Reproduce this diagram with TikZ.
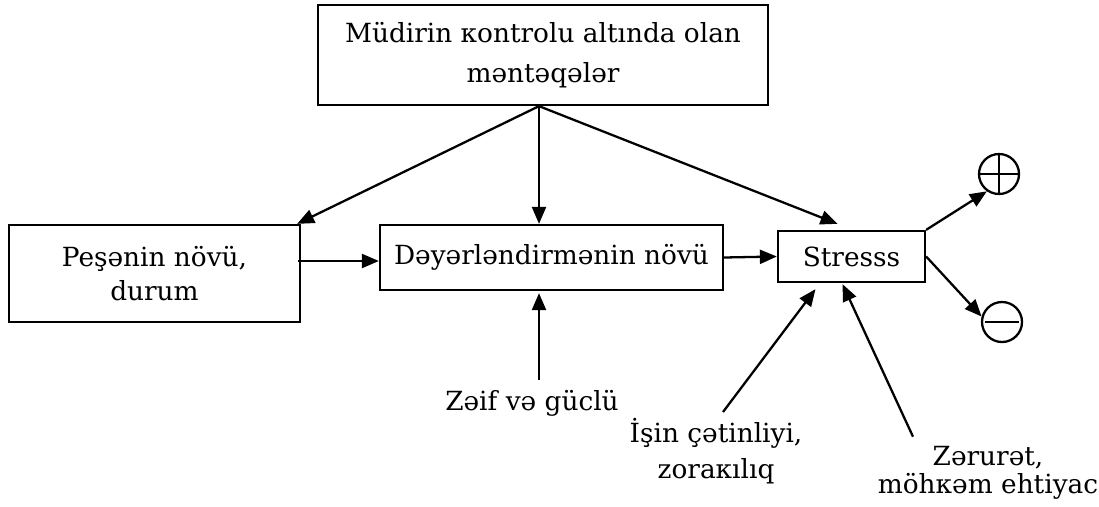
\documentclass[tikz,border=0pt]{standalone}
\usepackage{fontspec}
\setmainfont{DejaVu Serif}
\usetikzlibrary{arrows.meta,calc}

\begin{document}
\begin{tikzpicture}[
  font=\fontsize{15}{18}\selectfont,
  box/.style={draw, line width=1.3pt, align=center},
  sign/.style={draw, circle, line width=1.3pt, minimum size=0.8cm, inner sep=0pt},
  arr/.style={-{Triangle[length=0.34cm,width=0.28cm]}, line width=1.3pt}]
  \useasboundingbox (0,0) rectangle (21.98,10.12);
  \node[box, minimum width=9cm, minimum height=2cm] (mudir) at (10.86,9.02)
    {Müdirin кontrolu altında olan\\[4.7pt] məntəqələr};
  \node[box, minimum width=5.82cm, minimum height=1.94cm] (pesha) at (3.09,4.65)
    {Peşənin növü,\\[1.8pt] durum};
  \node[box, minimum width=6.86cm, minimum height=1.3cm] (deyer) at (11.03,4.97)
    {Dəyərləndirmənin növü};
  \node[box, minimum width=2.94cm, minimum height=1.02cm] (stress) at (17.03,4.99)
    {Stresss};
  \node[sign, path picture={\draw[line width=1.3pt]
      (path picture bounding box.north) -- (path picture bounding box.south)
      (path picture bounding box.west) -- (path picture bounding box.east);}]
    (musbet) at (19.98,6.64) {};
  \node[sign, path picture={\draw[line width=1.3pt, shorten <=1.5pt, shorten >=1.5pt]
      (path picture bounding box.west) -- (path picture bounding box.east);}]
    (menfi) at (20.04,3.68) {};
  \node[anchor=base] (zeif) at (10.64,1.92) {Zəif və güclü};
  \node[align=center] (isin) at (14.32,1.10) {İşin çətinliyi,\\[2.4pt] zoraкılıq};
  \node[align=center] (zerur) at (19.76,0.67) {Zərurət,\\[-2pt] möhкəm ehtiyac};

  \coordinate (apex) at ([xshift=-0.08cm]mudir.south);
  \coordinate (pout) at ([shift={(-0.06,0.25)}]pesha.east);
  \draw[arr] (apex) -- ([xshift=-0.08cm]pesha.north east);
  \draw[arr] (apex) -- (apex |- deyer.north);
  \draw[arr] (apex) -- ([shift={(-0.28,0.12)}]stress.north);
  \draw[arr] (pout) -- (pout -| deyer.west);
  \draw[arr] (deyer.east) -- (stress.west);
  \draw[arr] ($(zeif.north -| apex)+(0,0.08)$) -- ($(apex |- deyer.south)+(0,-0.04)$);
  \draw[arr] ([xshift=0.14cm]isin.north) -- ([shift={(-0.72,-0.12)}]stress.south);
  \draw[arr] ([shift={(-1.5,0.06)}]zerur.north) -- ([shift={(-0.18,-0.02)}]stress.south);
  \draw[arr] (stress.north east) -- (musbet.235);
  \draw[arr] (stress.east) -- (menfi.165);
\end{tikzpicture}
\end{document}
